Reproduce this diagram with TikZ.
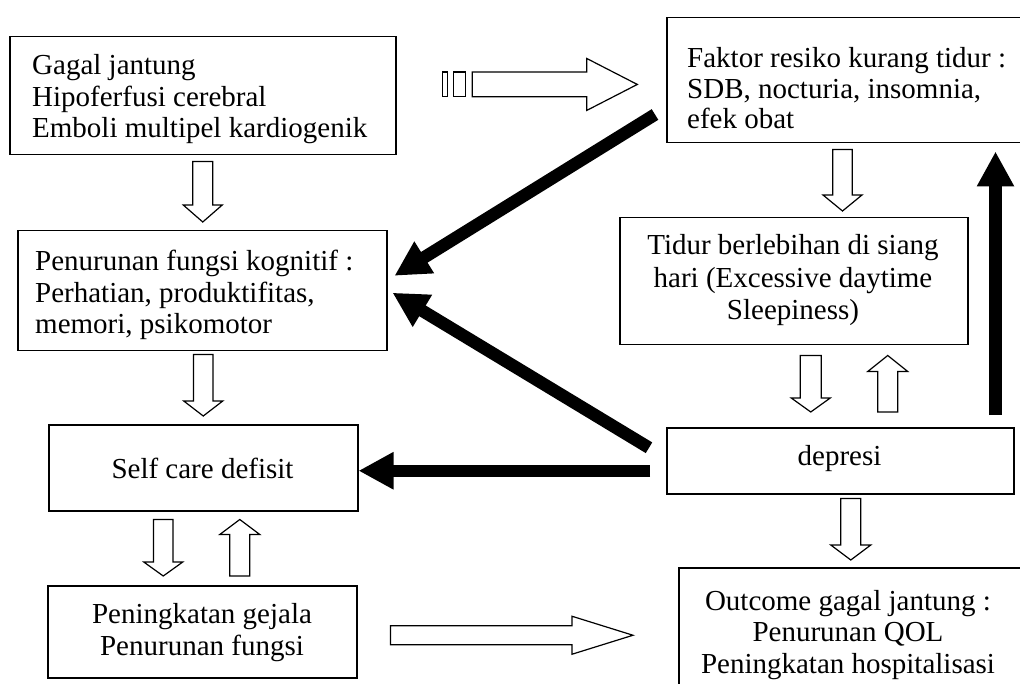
\documentclass[tikz,border=0pt]{standalone}
\usepackage{fontspec}
\setmainfont{Liberation Serif}
\usetikzlibrary{calc,arrows.meta}
\newcommand\hollowarrow[5]{%
  \coordinate (hh) at ($(#2)!#5!(#1)$);
  \draw[hollow] ($(#1)!#3!90:(#2)$) -- ($(hh)!#3!90:(#2)$) -- ($(hh)!#4!90:(#2)$) -- (#2)
    -- ($(hh)!#4!-90:(#2)$) -- ($(hh)!#3!-90:(#2)$) -- ($(#1)!#3!-90:(#2)$) -- cycle;}
\begin{document}
\begin{tikzpicture}[x=1pt,y=-1pt,
  frame/.style={draw, line width=1.5pt, rectangle, inner sep=0pt, anchor=north west},
  txt/.style={inner sep=0pt, font=\fontsize{29pt}{31.5pt}\selectfont},
  hollow/.style={draw, line width=1.2pt, fill=white, line join=miter},
  heavy/.style={line width=12.5pt, -{Triangle[length=35pt,width=35pt]}}]
\clip (0,0) rectangle (1020,684);
\fill[white] (0,0) rectangle (1020,684);
% frames
\node[frame, minimum width=386pt, minimum height=118pt] (gj) at (9,36) {};
\node[frame, minimum width=380pt, minimum height=125pt] (fak) at (666,17) {};
\node[frame, minimum width=369pt, minimum height=120pt] (kog) at (17,230) {};
\node[frame, minimum width=348pt, minimum height=127pt] (tid) at (619,217) {};
\node[frame, minimum width=309pt, minimum height=86pt] (slf) at (48,424) {};
\node[frame, minimum width=347pt, minimum height=66pt] (dep) at (666,427) {};
\node[frame, minimum width=360pt, minimum height=130pt] (out) at (678,567) {};
\node[frame, minimum width=309pt, minimum height=92pt] (pen) at (47,585) {};
% texts (base anchor = baseline of the last line)
\node[txt, align=left, anchor=base west] (gjt) at (32,138) {Gagal jantung\\Hipoferfusi cerebral\\Emboli multipel kardiogenik};
\node[txt, align=left, anchor=base west, font=\fontsize{29pt}{30.7pt}\selectfont] (fakt) at (687,129) {Faktor resiko kurang tidur :\\SDB, nocturia, insomnia,\\efek obat};
\node[txt, align=left, anchor=base west] (kogt) at (35,334) {Penurunan fungsi kognitif :\\Perhatian, produktifitas,\\memori, psikomotor};
\node[txt, align=center, anchor=base, font=\fontsize{29pt}{32.5pt}\selectfont] (tidt) at (793,320) {Tidur berlebihan di siang\\hari (Excessive daytime\\Sleepiness)};
\node[txt, anchor=base] (slft) at (202.5,478) {Self care defisit};
\node[txt, anchor=base] (dept) at (839.5,465) {depresi};
\node[txt, align=center, anchor=base] (outt) at (848,673) {Outcome gagal jantung :\\Penurunan QOL\\Peningkatan hospitalisasi};
\node[txt, align=center, anchor=base] (pent) at (202,655) {Peningkatan gejala\\Penurunan fungsi};
% hollow arrow end points
\coordinate (a1t) at ($(gj.south)+(0,6)$);
\coordinate (a1h) at ($(a1t |- kog.north)+(0,-8)$);
\coordinate (a2t) at ($(kog.south)+(1,3)$);
\coordinate (a2h) at ($(a2t |- slf.north)+(0,-8)$);
\coordinate (a3t) at ($(slf.south)+(-40,8)$);
\coordinate (a3h) at ($(a3t |- pen.north)+(0,-9)$);
\coordinate (a4t) at ($(pen.north)+(37.5,-9)$);
\coordinate (a4h) at ($(a4t |- slf.south)+(0,8)$);
\coordinate (a5t) at ($(fak.south west)+(176.5,6)$);
\coordinate (a5h) at ($(a5t |- tid.north)+(0,-6)$);
\coordinate (a6t) at ($(tid.south)+(17,10)$);
\coordinate (a6h) at ($(a6t |- dep.north)+(0,-15)$);
\coordinate (a7t) at ($(dep.north)+(47.5,-15)$);
\coordinate (a7h) at ($(a7t |- tid.south)+(0,10)$);
\coordinate (a8t) at ($(dep.south)+(10.5,4)$);
\coordinate (a8h) at ($(a8t |- out.north)+(0,-7)$);
\coordinate (b1t) at ($(pen.east)+(33,3.5)$);
\coordinate (b1h) at ($(b1t -| out.west)+(-45,0)$);
\coordinate (s1t) at ($(gj.east)+(75.7,-11.3)$);
\coordinate (s1h) at ($(s1t -| fak.west)+(-28.7,0)$);
% hollow arrows
\hollowarrow{a1t}{a1h}{10pt}{19.5pt}{17pt}
\hollowarrow{a2t}{a2h}{9.75pt}{19.5pt}{15pt}
\hollowarrow{a3t}{a3h}{9.75pt}{19.5pt}{14pt}
\hollowarrow{a4t}{a4h}{10pt}{20pt}{15pt}
\hollowarrow{a5t}{a5h}{9.75pt}{19.5pt}{16pt}
\hollowarrow{a6t}{a6h}{10.5pt}{19.5pt}{14pt}
\hollowarrow{a7t}{a7h}{10pt}{20pt}{16pt}
\hollowarrow{a8t}{a8h}{10pt}{20pt}{15pt}
\hollowarrow{b1t}{b1h}{9.5pt}{19pt}{61pt}
\hollowarrow{s1t}{s1h}{12.35pt}{26pt}{50.6pt}
\draw[hollow] ($(s1t)+(-30,-12.35)$) rectangle ($(s1t)+(-24.4,12.35)$);
\draw[hollow] ($(s1t)+(-18.4,-12.35)$) rectangle ($(s1t)+(-6.7,12.35)$);
% heavy arrows
\coordinate (t1t) at ($(fak.south west)+(-11,-29)$);
\coordinate (t1h) at ($(kog.east)+(7,-15)$);
\coordinate (t2t) at ($(dep.west)+(-17,-13)$);
\coordinate (t2h) at ($(kog.east)+(5,2)$);
\coordinate (t3t) at ($(dep.west)+(-16,10)$);
\coordinate (t3h) at ($(slf.east)+(0,3)$);
\coordinate (t4t) at ($(dep.north east)+(-19,-12)$);
\coordinate (t4h) at ($(t4t |- fak.south)+(0,8)$);
\draw[heavy] (t1t) -- (t1h);
\draw[heavy] (t2t) -- (t2h);
\draw[heavy] (t3t) -- (t3h);
\draw[heavy] (t4t) -- (t4h);
\end{tikzpicture}
\end{document}
